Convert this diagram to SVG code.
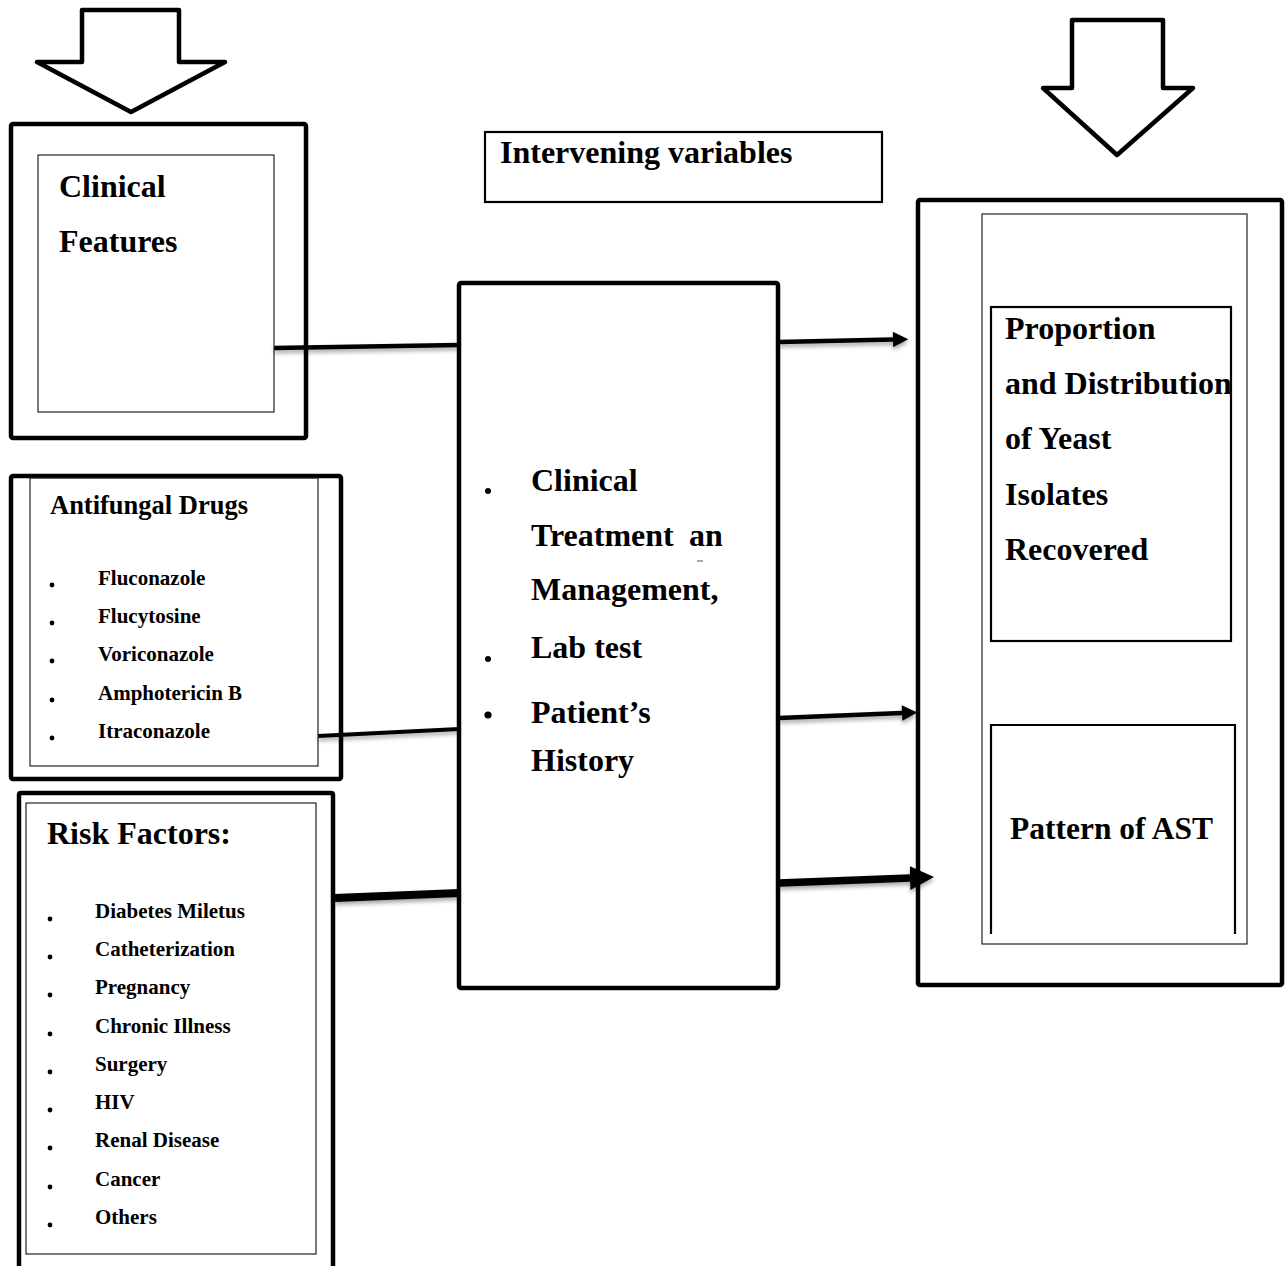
<svg xmlns="http://www.w3.org/2000/svg" width="1287" height="1266" viewBox="0 0 1287 1266">
<style>
.thick{fill:none;stroke:#000;stroke-width:4.5;stroke-linejoin:round}
.thin{fill:none;stroke:#222;stroke-width:1.2}
.mid{fill:none;stroke:#000;stroke-width:2.2}
.blk{fill:#fff;stroke:#000;stroke-width:4.5;stroke-linejoin:round}
.big{font-family:"Liberation Serif","Times New Roman",serif;font-weight:bold;font-size:32px;fill:#000}
.hd{font-family:"Liberation Serif","Times New Roman",serif;font-weight:bold;font-size:26.5px;fill:#000}
.it{font-family:"Liberation Serif","Times New Roman",serif;font-weight:bold;font-size:21px;fill:#000}
.con{fill:none;stroke:#000;stroke-linecap:butt}
</style>
<defs>
<filter id="sh" x="-10%" y="-100%" width="120%" height="400%">
<feDropShadow dx="0" dy="3" stdDeviation="2" flood-color="#000" flood-opacity="0.35"/>
</filter>
<marker id="ah" viewBox="0 0 10 10" refX="0" refY="5" markerWidth="3.8" markerHeight="3.4" markerUnits="strokeWidth" orient="auto">
<path d="M0,0 L10,5 L0,10 Z" fill="#000"/>
</marker>
<marker id="ahb" viewBox="0 0 10 10" refX="0" refY="5" markerWidth="3.2" markerHeight="3.2" markerUnits="strokeWidth" orient="auto">
<path d="M0,0 L10,5 L0,10 Z" fill="#000"/>
</marker>
</defs>

<g id="arrow-left">
<path class="blk" d="M82,10 H179 V62 H225 L131,112 L37,62 H82 Z"/>
</g>
<g id="arrow-right">
<path class="blk" d="M1072,20 H1163 V88 H1193 L1117,155 L1043,88 H1072 Z"/>
</g>

<g id="connectors" filter="url(#sh)">
<path class="con" stroke-width="4.5" d="M274,348 L459,345"/>
<path class="con" stroke-width="4.5" d="M779,342 L893,339.5" marker-end="url(#ah)"/>
<path class="con" stroke-width="4" d="M318,736 L459,729"/>
<path class="con" stroke-width="4.5" d="M779,718 L902,713" marker-end="url(#ah)"/>
<path class="con" stroke-width="8" d="M335,898 L459,893"/>
<path class="con" stroke-width="7.5" d="M779,883 L910,878" marker-end="url(#ahb)"/>
</g>

<g id="clinical-features">
<rect class="thick" x="11" y="124" width="295" height="314" rx="2"/>
<rect class="thin" x="38" y="155" width="236" height="257"/>
<text class="big" x="59" y="197">Clinical</text>
<text class="big" x="59" y="252">Features</text>
</g>

<g id="intervening-label">
<rect class="mid" x="485" y="132" width="397" height="70"/>
<text class="big" x="500" y="163">Intervening variables</text>
</g>

<g id="antifungal-drugs">
<rect class="thick" x="11" y="476" width="330" height="303" rx="2"/>
<rect class="thin" x="30" y="478" width="288" height="288"/>
<text class="hd" x="50" y="514" textLength="198" lengthAdjust="spacingAndGlyphs">Antifungal Drugs</text>
<circle cx="52" cy="585" r="2.4"/>
<circle cx="52" cy="623" r="2.4"/>
<circle cx="52" cy="661" r="2.4"/>
<circle cx="52" cy="700" r="2.4"/>
<circle cx="52" cy="738" r="2.4"/>
<text class="it" x="98" y="585">Fluconazole</text>
<text class="it" x="98" y="623">Flucytosine</text>
<text class="it" x="98" y="661">Voriconazole</text>
<text class="it" x="98" y="700">Amphotericin B</text>
<text class="it" x="98" y="738">Itraconazole</text>
</g>

<g id="risk-factors">
<path class="thick" d="M19,1270 V795 Q19,793 21,793 H331 Q333,793 333,795 V1270"/>
<rect class="thin" x="26" y="803" width="290" height="451"/>
<text class="big" x="47" y="844">Risk Factors:</text>
<circle cx="50" cy="919" r="2.4"/>
<circle cx="50" cy="957" r="2.4"/>
<circle cx="50" cy="995" r="2.4"/>
<circle cx="50" cy="1034" r="2.4"/>
<circle cx="50" cy="1072" r="2.4"/>
<circle cx="50" cy="1110" r="2.4"/>
<circle cx="50" cy="1148" r="2.4"/>
<circle cx="50" cy="1187" r="2.4"/>
<circle cx="50" cy="1225" r="2.4"/>
<text class="it" x="95" y="918">Diabetes Miletus</text>
<text class="it" x="95" y="956">Catheterization</text>
<text class="it" x="95" y="994">Pregnancy</text>
<text class="it" x="95" y="1033">Chronic Illness</text>
<text class="it" x="95" y="1071">Surgery</text>
<text class="it" x="95" y="1109">HIV</text>
<text class="it" x="95" y="1147">Renal Disease</text>
<text class="it" x="95" y="1186">Cancer</text>
<text class="it" x="95" y="1224">Others</text>
</g>

<g id="intervening-variables">
<rect class="thick" x="459" y="283" width="319" height="705" rx="2"/>
<circle cx="488" cy="491" r="3"/>
<circle cx="488" cy="659" r="3"/>
<circle cx="488" cy="715" r="3.6"/>
<text class="big" x="531" y="491">Clinical</text>
<text class="big" x="531" y="546">Treatment</text>
<text class="big" x="689" y="546">an</text>
<line x1="697" y1="561" x2="703" y2="561" stroke="#555" stroke-width="1"/>
<text class="big" x="531" y="600">Management,</text>
<text class="big" x="531" y="658">Lab test</text>
<text class="big" x="531" y="723">Patient’s</text>
<text class="big" x="531" y="771">History</text>
</g>

<g id="outcomes">
<rect class="thick" x="918" y="200" width="364" height="785" rx="2"/>
<rect class="thin" x="982" y="214" width="265" height="730"/>
</g>

<g id="proportion">
<rect class="mid" x="991" y="307" width="240" height="334"/>
<text class="big" x="1005" y="339">Proportion</text>
<text class="big" x="1005" y="394">and Distribution</text>
<text class="big" x="1005" y="449">of Yeast</text>
<text class="big" x="1005" y="505">Isolates</text>
<text class="big" x="1005" y="560">Recovered</text>
</g>

<g id="pattern-ast">
<path class="mid" d="M991,934 V725 H1235 V934"/>
<text class="big" x="1010" y="839" textLength="203" lengthAdjust="spacingAndGlyphs">Pattern of AST</text>
</g>
</svg>
